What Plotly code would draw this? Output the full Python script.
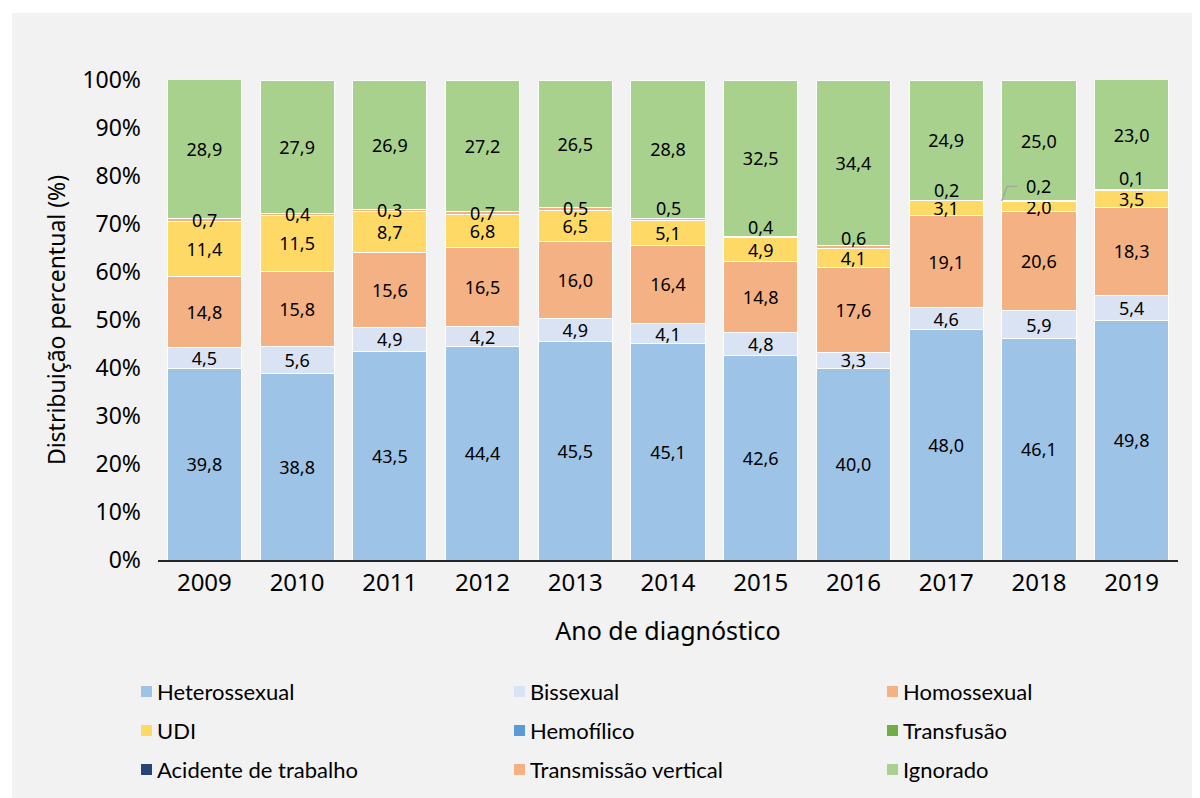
import plotly.graph_objects as go

anos = ["2009", "2010", "2011", "2012", "2013", "2014", "2015", "2016", "2017", "2018", "2019"]

heterossexual = [39.8, 38.8, 43.5, 44.4, 45.5, 45.1, 42.6, 40.0, 48.0, 46.1, 49.8]
bissexual = [4.5, 5.6, 4.9, 4.2, 4.9, 4.1, 4.8, 3.3, 4.6, 5.9, 5.4]
homossexual = [14.8, 15.8, 15.6, 16.5, 16.0, 16.4, 14.8, 17.6, 19.1, 20.6, 18.3]
udi = [11.4, 11.5, 8.7, 6.8, 6.5, 5.1, 4.9, 4.1, 3.1, 2.0, 3.5]
hemofilico = [0, 0, 0, 0, 0, 0, 0, 0, 0, 0, 0]
transfusao = [0, 0, 0, 0, 0, 0, 0, 0, 0, 0, 0]
acidente = [0, 0, 0, 0, 0, 0, 0, 0, 0, 0, 0]
transm_vertical = [0.7, 0.4, 0.3, 0.7, 0.5, 0.5, 0.4, 0.6, 0.2, 0.2, 0.1]
ignorado = [28.9, 27.9, 26.9, 27.2, 26.5, 28.8, 32.5, 34.4, 24.9, 25.0, 23.0]

y_ticks = [0, 10, 20, 30, 40, 50, 60, 70, 80, 90, 100]
y_tick_labels = ["0%", "10%", "20%", "30%", "40%", "50%", "60%", "70%", "80%", "90%", "100%"]

series = [
    ("Heterossexual", heterossexual, "#9DC3E6", True),
    ("Bissexual", bissexual, "#DAE3F3", True),
    ("Homossexual", homossexual, "#F4B183", True),
    ("UDI", udi, "#FFD966", True),
    ("Hemofílico", hemofilico, "#5B9BD5", False),
    ("Transfusão", transfusao, "#70AD47", False),
    ("Acidente de trabalho", acidente, "#264478", False),
    ("Transmissão vertical", transm_vertical, "#F4B183", False),
    ("Ignorado", ignorado, "#A9D18E", True),
]

# pixel shift of the small "Transmissão vertical" labels (style only)
tv_label_shift = [0, 1, 0, 0, 1, 11, 10, 9, 10, 15, 12]

FONT = "Noto Sans"
LEG_FONT = "Lato"

# page body margin offset (the figure is drawn 8px in from the page corner)
OFF = 8
# plot area in screen pixels
L, R, T, B = 158, 1178, 80, 560
W, H = R - L, B - T


def px_x(p):
    return (p - L) / W


def px_y(p):
    return (B - p) / H


fig = go.Figure()
for name, vals, color, lab in series:
    fig.add_trace(go.Bar(
        x=anos, y=vals, name=name, showlegend=False,
        marker=dict(color=color, line=dict(color="#FFFFFF", width=1)),
        texttemplate="%{y:.1f}" if lab else None,
        textposition="inside" if lab else "none",
        insidetextanchor="middle",
        constraintext="none",
        textfont=dict(family=FONT, size=18, color="#000000"),
        hoverinfo="name+y",
    ))

# labels for Transmissão vertical (category axis -> use category index)
for i, a in enumerate(anos):
    base = heterossexual[i] + bissexual[i] + homossexual[i] + udi[i] + hemofilico[i] + transfusao[i] + acidente[i]
    yc = base + transm_vertical[i] / 2
    fig.add_annotation(x=i, y=yc, xref="x", yref="y",
                       text=f"{transm_vertical[i]:.1f}".replace(".", ","),
                       showarrow=False, yshift=tv_label_shift[i],
                       font=dict(family=FONT, size=18, color="#000000"))

# leader line for 2018
i18 = anos.index("2018")
top18 = heterossexual[i18] + bissexual[i18] + homossexual[i18] + udi[i18] + transm_vertical[i18]
fig.add_shape(type="path", xref="x", yref="y",
              path=f"M {i18 - 0.40},{top18} L {i18 - 0.345},{top18 + 3.0} L {i18 - 0.23},{top18 + 3.0}",
              line=dict(color="#A6A6A6", width=1.5))

# background panel (white outer strips)
fig.add_shape(type="rect", xref="paper", yref="paper", x0=-1, x1=2, y0=px_y(13), y1=2,
              fillcolor="#FFFFFF", line_width=0, layer="below")
fig.add_shape(type="rect", xref="paper", yref="paper", x0=-1, x1=px_x(12), y0=-1, y1=2,
              fillcolor="#FFFFFF", line_width=0, layer="below")

# manual legend (3 columns)
leg_cols = [141, 514, 887]
leg_rows = [691, 730, 769]
for k, (name, vals, color, lab) in enumerate(series):
    cx = leg_cols[k % 3]
    cy = leg_rows[k // 3]
    fig.add_shape(type="rect", xref="paper", yref="paper",
                  x0=px_x(cx), x1=px_x(cx + 11), y0=px_y(cy + 6), y1=px_y(cy - 5),
                  fillcolor=color, line_width=0)
    fig.add_annotation(xref="paper", yref="paper", x=px_x(cx + 14), y=px_y(cy),
                       xanchor="left", yanchor="middle", showarrow=False, text=name,
                       font=dict(family=LEG_FONT, size=22, color="#000000"))

fig.update_layout(
    width=1200, height=798,
    barmode="stack", bargap=0.2,
    separators=",.",
    paper_bgcolor="#F2F2F2", plot_bgcolor="#F2F2F2",
    margin=dict(l=L - OFF, r=1200 - R + OFF, t=T - OFF, b=798 - B + OFF, autoexpand=False),
    font=dict(family=FONT, color="#000000"),
    showlegend=False,
    xaxis=dict(
        type="category", range=[-0.5, 10.5],
        showline=True, linecolor="#262626", linewidth=2,
        ticks="", showgrid=False,
        tickfont=dict(family=FONT, size=24, color="#000000"),
        title=dict(text="Ano de diagnóstico", font=dict(family=FONT, size=25, color="#000000"), standoff=26),
    ),
    yaxis=dict(
        range=[0, 100], tickmode="array", tickvals=y_ticks, ticktext=y_tick_labels,
        showgrid=False, zeroline=False, showline=False,
        tickfont=dict(family=FONT, size=23, color="#000000"),
        ticklabelstandoff=16,
        title=dict(text="Distribuição percentual (%)", font=dict(family=FONT, size=23, color="#000000"), standoff=10),
    ),
)

fig.write_html("out.html")
